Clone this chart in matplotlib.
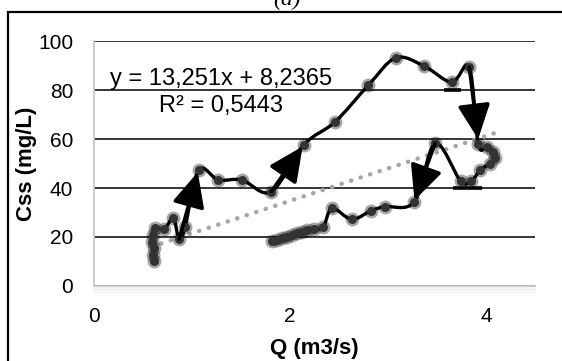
import numpy as np
import matplotlib.pyplot as plt
from matplotlib.path import Path
from matplotlib.patches import PathPatch, Rectangle

plt.rcParams['font.family'] = ['Liberation Sans', 'DejaVu Sans']

# hysteresis loop (Q in m3/s, Css in mg/L)
q = [0.61, 0.60, 0.61, 0.59, 0.60, 0.62, 0.72, 0.81, 0.87, 0.93, 1.07,
     1.27, 1.51, 1.81, 2.14, 2.46, 2.80, 3.08, 3.37, 3.65, 3.83, 3.92,
     4.01, 4.07, 4.09, 4.04, 3.94, 3.85, 3.74, 3.48, 3.27, 2.97, 2.83,
     2.63, 2.43, 2.34, 2.25, 2.17, 2.12, 2.07, 2.02, 1.97, 1.92, 1.87, 1.82]
css = [10.0, 12.5, 15.5, 18.0, 21.0, 23.5, 23.3, 27.6, 19.1, 24.0, 47.3,
       43.3, 43.3, 38.5, 57.6, 67.0, 82.0, 93.2, 89.8, 83.2, 89.3, 58.0,
       56.9, 54.8, 52.1, 50.0, 47.3, 42.9, 42.9, 58.2, 34.4, 32.4, 30.8,
       27.2, 31.7, 24.0, 23.4, 22.9, 22.2, 21.5, 20.8, 20.1, 19.4, 18.9, 18.4]

# arrows drawn over the loop: (x0, y0, x1, y1)
arrows = [(0.87, 19.1, 1.06, 46.5),
          (1.81, 38.5, 2.13, 57.0),
          (3.83, 89.3, 3.92, 60.0),
          (3.48, 58.2, 3.27, 35.0)]

# short black bars on the gridlines: (x0, x1, y)
bars = [(3.57, 3.74, 80), (3.66, 3.96, 40)]

slope, icpt = 13.251, 8.2365
eq_text = 'y = 13,251x + 8,2365'
r2_text = 'R² = 0,5443'


def smooth(x, y):
    # excel-like smoothed line: bezier through the points
    pts = np.column_stack([x, y])
    n = len(pts)
    verts = [pts[0]]
    codes = [Path.MOVETO]
    for i in range(n - 1):
        p0 = pts[max(i - 1, 0)]
        p1 = pts[i]
        p2 = pts[i + 1]
        p3 = pts[min(i + 2, n - 1)]
        verts += [p1 + (p2 - p0) / 6, p2 - (p3 - p1) / 6, p2]
        codes += [Path.CURVE4] * 3
    return Path(verts, codes)


fig = plt.figure(figsize=(5.62, 3.61), dpi=100)
ax = fig.add_axes([0.167, 0.208, 0.785, 0.678])

ax.set_xlim(0, 4.5)
ax.set_ylim(0, 100)
ax.set_xticks([0, 2, 4])
ax.set_yticks([0, 20, 40, 60, 80, 100])
ax.yaxis.grid(True, color='black', lw=1.1)
ax.set_axisbelow(True)
for s in ['top', 'right']:
    ax.spines[s].set_visible(False)
for s in ['left', 'bottom']:
    ax.spines[s].set_color('#C8C8C8')
    ax.spines[s].set_linewidth(1.3)
ax.tick_params(length=0, labelsize=15)
ax.tick_params(axis='y', pad=15)
ax.tick_params(axis='x', pad=15)

# trendline
tx = np.array([min(q), max(q)])
ax.plot(tx, slope * tx + icpt, color='#A6A6A6', lw=3.2,
        linestyle=(0, (0.05, 2.2)), dash_capstyle='round', zorder=2)

# series
ax.add_patch(PathPatch(smooth(q, css), fill=False, lw=2.4,
                       edgecolor='black', zorder=3))
ax.plot(q, css, 'o', ms=10, color='black', alpha=0.35, mec='none', zorder=4)
ax.plot(q, css, 'o', ms=6.5, color='#333333', mec='none', zorder=5)

for x0, y0, x1, y1 in arrows:
    ax.annotate('', xy=(x1, y1), xytext=(x0, y0),
                arrowprops=dict(arrowstyle='-|>,head_length=0.85,head_width=0.4',
                                mutation_scale=25, lw=2.6, color='black',
                                shrinkA=0, shrinkB=0), zorder=6)

for x0, x1, y in bars:
    ax.plot([x0, x1], [y, y], color='black', lw=2.6, solid_capstyle='butt', zorder=3)

ax.text(1.30, 82, eq_text, fontsize=17, ha='center', va='baseline', zorder=7)
ax.text(1.30, 71, r2_text, fontsize=17, ha='center', va='baseline', zorder=7)

ax.set_xlabel('Q (m3/s)', fontsize=16, fontweight='bold', va='center')
ax.set_ylabel('Css (mg/L)', fontsize=16, fontweight='bold', va='center')
ax.xaxis.set_label_coords(0.5, -0.255)
ax.yaxis.set_label_coords(-0.152, 0.5)

# shadow under the plot area
for k in range(6):
    ax.plot([0, 4.5], [-0.6 - k * 0.6] * 2, color='black', alpha=0.05 - k * 0.007,
            lw=1.5, clip_on=False, zorder=1)

# frame of the whole chart (runs off the right and bottom)
fig.patches.append(Rectangle((8 / 562, -0.1), 1.2, 1.1 - 12 / 361,
                             transform=fig.transFigure, fill=False,
                             edgecolor='black', lw=1.6))
fig.text(0.51, 1 - 5 / 361, '(a)', fontsize=17, family='Liberation Serif',
         style='italic', ha='center', va='baseline')

fig.savefig('out.png', dpi=100)
